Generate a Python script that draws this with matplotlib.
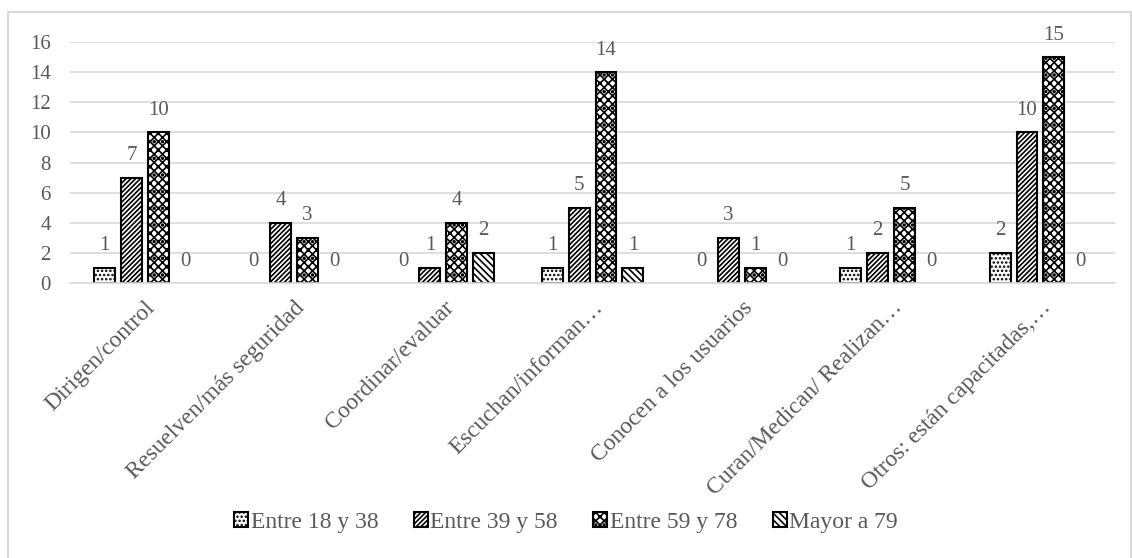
import matplotlib.pyplot as plt
import numpy as np
from matplotlib.patches import Rectangle, Patch

categories = ['Dirigen/control', 'Resuelven/más seguridad', 'Coordinar/evaluar',
              'Escuchan/informan…', 'Conocen a los usuarios',
              'Curan/Medican/ Realizan…', 'Otros: están capacitadas,…']
series_names = ['Entre 18 y 38', 'Entre 39 y 58', 'Entre 59 y 78', 'Mayor a 79']
edad_18_38 = [1, 0, 0, 1, 0, 1, 2]
edad_39_58 = [7, 4, 1, 5, 3, 2, 10]
edad_59_78 = [10, 3, 4, 14, 1, 5, 15]
mayor_79 = [0, 0, 2, 1, 0, 0, 0]

plt.rcParams['font.family'] = ['Liberation Serif', 'DejaVu Serif']
plt.rcParams['hatch.linewidth'] = 1.2

fig = plt.figure(figsize=(11.32, 5.58), dpi=100)
ax = fig.add_axes([0.062, 0.4928, 0.923, 0.4319])

fig.patches.append(Rectangle((0.007, -0.01), 0.992, 0.989, transform=fig.transFigure,
                             fill=False, edgecolor='#d9d9d9', linewidth=1.5))

x = np.arange(len(categories))
width = 0.14
offsets = [-0.27, -0.09, 0.09, 0.27]
hatches = ['....', '///////', 'xxxx..', '\\\\\\\\\\']
gray = '#595959'

handles = []
for vals, name, off, h in zip([edad_18_38, edad_39_58, edad_59_78, mayor_79],
                              series_names, offsets, hatches):
    bars = ax.bar(x + off, vals, width, facecolor='white', edgecolor='black',
                  linewidth=1.5, hatch=h)
    handles.append(Patch(facecolor='white', edgecolor='black', linewidth=1.5,
                         hatch=h, label=name))
    for b, v in zip(bars, vals):
        if v == 0:
            b.set_visible(False)
        ax.annotate(str(v), (b.get_x() + b.get_width() / 2, v),
                    xytext=(0, 9), textcoords='offset points',
                    ha='center', va='bottom', fontsize=15, color=gray)

ax.set_xlim(-0.5, len(categories) - 0.5)
ax.set_ylim(0, 16)
ax.set_yticks(range(0, 17, 2))
ax.set_xticks(x)
ax.set_xticklabels(categories, rotation=45, ha='right', rotation_mode='anchor')
ax.tick_params(axis='both', length=0, labelcolor=gray)
ax.tick_params(axis='y', pad=14, labelsize=15)
ax.tick_params(axis='x', pad=10, labelsize=17)
ax.grid(axis='y', color='#d9d9d9', linewidth=1.2)
ax.set_axisbelow(True)
for s in ['top', 'right', 'left']:
    ax.spines[s].set_visible(False)
ax.spines['bottom'].set_color('#d9d9d9')
ax.spines['bottom'].set_linewidth(1.2)

leg = fig.legend(handles=handles, loc='center', bbox_to_anchor=(0.5, 0.064), ncol=4,
                 frameon=False, fontsize=17, handlelength=0.6, handleheight=0.6,
                 handletextpad=0.1, columnspacing=1.5)
for t in leg.get_texts():
    t.set_color(gray)

fig.savefig('out.png', dpi=100)
